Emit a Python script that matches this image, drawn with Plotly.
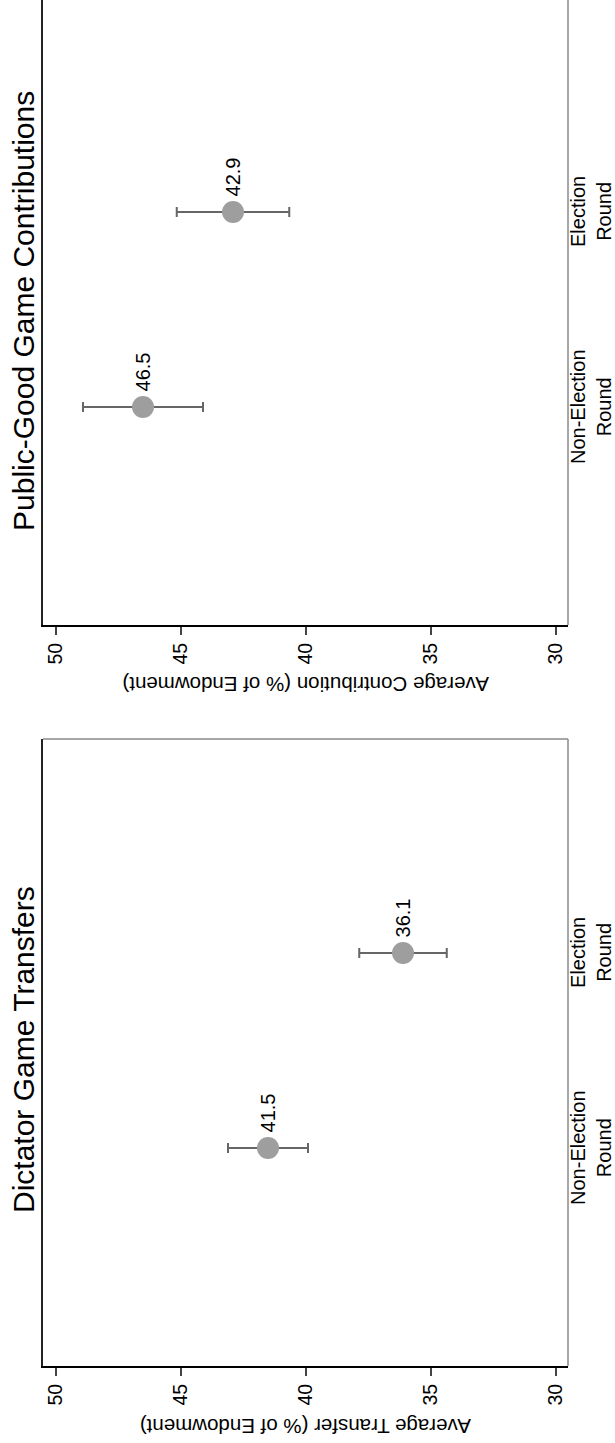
import plotly.graph_objects as go

# Treatment rounds (positions along the category axis)
round_labels = ["Non-Election<br>Round", "Election<br>Round"]
round_pos = [1, 2]

# Public-good game: average contribution (% of endowment) and CI half-widths
pg_mean = [46.5, 42.9]
pg_ci = [2.4, 2.25]

# Dictator game: average transfer (% of endowment) and CI half-widths
dg_mean = [41.5, 36.1]
dg_ci = [1.6, 1.75]

value_ticks = [30, 35, 40, 45, 50]
panel_titles = ["Public-Good Game Contributions", "Dictator Game Transfers"]
axis_titles = ["Average Contribution (% of Endowment)", "Average Transfer (% of Endowment)"]

W, H = 615, 1443
FONT = "Liberation Sans, Arial, Helvetica, sans-serif"
ML, MR = 43, 47


def py(px):
    """Convert a pixel row to paper y."""
    return (H - px) / H


fig = go.Figure()

panels = [
    dict(mean=pg_mean, ci=pg_ci, xa="x", ya="y", dom=[py(625), 1.0],
         rng=[-0.118, 3.087], title_y=311, axt_y=685),
    dict(mean=dg_mean, ci=dg_ci, xa="x2", ya="y2", dom=[py(1366), py(739)],
         rng=[-0.118, 3.097], title_y=1050, axt_y=1427),
]

annotations = []
shapes = []
for i, p in enumerate(panels):
    fig.add_trace(go.Scatter(
        x=p["mean"], y=round_pos, mode="markers",
        marker=dict(size=22, color="#9e9e9e", line=dict(width=0)),
        error_x=dict(type="data", array=p["ci"], symmetric=True,
                     color="#666666", thickness=2, width=5),
        xaxis=p["xa"], yaxis=p["ya"], showlegend=False, hoverinfo="skip",
    ))
    # value labels
    for v, c in zip(p["mean"], round_pos):
        annotations.append(dict(
            x=v, y=c, xref=p["xa"], yref=p["ya"], text=f"{v:.1f}",
            textangle=-90, showarrow=False, xanchor="center", yanchor="bottom",
            yshift=13, font=dict(family=FONT, size=20, color="black"),
        ))
    # category labels
    for lab, c in zip(round_labels, round_pos):
        annotations.append(dict(
            x=(591 - ML) / (W - ML - MR), y=c, xref="paper", yref=p["ya"],
            text=lab, textangle=-90, showarrow=False, align="center",
            xanchor="center", yanchor="middle",
            font=dict(family=FONT, size=20, color="black"),
        ))
    # panel title
    annotations.append(dict(
        x=(23 - ML) / (W - ML - MR), y=py(p["title_y"]), xref="paper", yref="paper",
        text=panel_titles[i], textangle=-90, showarrow=False,
        xanchor="center", yanchor="middle",
        font=dict(family=FONT, size=30, color="black"),
    ))
    # value-axis title
    annotations.append(dict(
        x=0.5, y=py(p["axt_y"]), xref="paper", yref="paper",
        text=axis_titles[i], textangle=180, showarrow=False,
        xanchor="center", yanchor="middle",
        font=dict(family=FONT, size=20.5, color="black"),
    ))
    # right border (gray)
    shapes.append(dict(type="line", xref=f"{p['xa']} domain", yref=f"{p['ya']} domain",
                       x0=1, x1=1, y0=0, y1=1, line=dict(color="#8a8a8a", width=1.5)))

# top border of the lower panel
shapes.append(dict(type="line", xref="x2 domain", yref="y2 domain",
                   x0=0, x1=1, y0=1, y1=1, line=dict(color="#8a8a8a", width=1.5)))

xaxis_style = dict(
    range=[50.5, 29.5], tickvals=value_ticks, ticks="outside", ticklen=8,
    tickwidth=1.5, tickcolor="#444444", tickangle=-90, showgrid=False,
    zeroline=False, showline=True, linecolor="black", linewidth=2,
    tickfont=dict(family=FONT, size=19.5, color="black"), domain=[0, 1],
)
yaxis_style = dict(
    showticklabels=False, ticks="", showgrid=False, zeroline=False,
    showline=True, linecolor="#222222", linewidth=1.5,
)

fig.update_layout(
    width=W, height=H,
    margin=dict(l=ML, r=MR, t=0, b=0, pad=0),
    paper_bgcolor="white", plot_bgcolor="white",
    xaxis=dict(**xaxis_style, anchor="y"),
    yaxis=dict(**yaxis_style, anchor="x", domain=panels[0]["dom"], range=panels[0]["rng"]),
    xaxis2=dict(**xaxis_style, anchor="y2"),
    yaxis2=dict(**yaxis_style, anchor="x2", domain=panels[1]["dom"], range=panels[1]["rng"]),
    annotations=annotations, shapes=shapes,
    font=dict(family=FONT),
)

fig.write_html("out.html")
